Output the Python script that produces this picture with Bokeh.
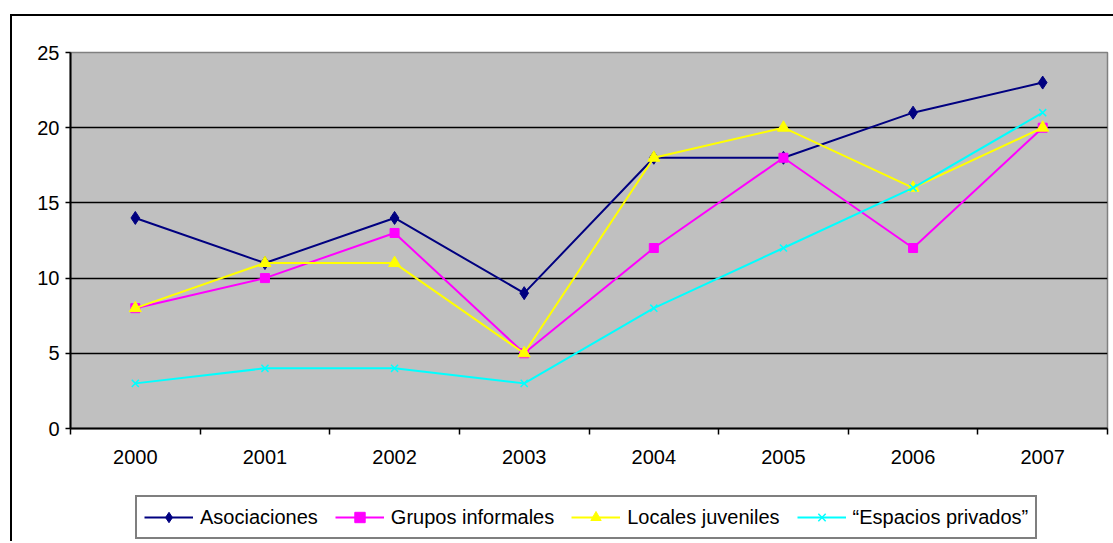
from bokeh.plotting import figure
from bokeh.layouts import column
from bokeh.models import Range1d, FixedTicker, Legend, LegendItem
from bokeh.embed import file_html
from bokeh.resources import INLINE

years = ["2000", "2001", "2002", "2003", "2004", "2005", "2006", "2007"]
asociaciones = [14, 11, 14, 9, 18, 18, 21, 23]
grupos = [8, 10, 13, 5, 12, 18, 12, 20]
locales = [8, 11, 11, 5, 18, 20, 16, 20]
espacios = [3, 4, 4, 3, 8, 12, 16, 21]
y_ticks = [0, 5, 10, 15, 20, 25]
names = ["Asociaciones", "Grupos informales", "Locales juveniles",
         "\u201cEspacios privados\u201d"]

FONT = "Liberation Sans"
xs = [i + 0.5 for i in range(len(years))]

p = figure(width=1101, height=460, output_backend="svg", toolbar_location=None,
           x_range=Range1d(0, len(years)), y_range=Range1d(0, 25))
p.min_border_left = 58
p.min_border_top = 36
p.min_border_bottom = 48
p.min_border_right = 6
p.background_fill_color = "#C0C0C0"
p.border_fill_color = "white"
p.outline_line_color = "#808080"
p.outline_line_width = 1.5

p.xaxis.ticker = FixedTicker(ticks=xs, minor_ticks=list(range(len(years) + 1)))
p.xaxis.major_label_overrides = {x: y for x, y in zip(xs, years)}
p.xaxis.major_tick_out = 0
p.xaxis.major_tick_in = 0
p.xaxis.minor_tick_out = 6
p.xaxis.minor_tick_in = 0
p.xaxis.minor_tick_line_color = "black"
p.xaxis.minor_tick_line_width = 1.5
p.xaxis.major_label_standoff = 15
p.yaxis.ticker = FixedTicker(ticks=y_ticks)
p.yaxis.minor_tick_line_color = None
p.yaxis.major_tick_out = 5
p.yaxis.major_tick_in = 0
p.yaxis.major_label_standoff = 6
for ax in (p.xaxis, p.yaxis):
    ax.axis_line_color = "black"
    ax.axis_line_width = 2
    ax.major_tick_line_color = "black"
    ax.major_tick_line_width = 1.5
    ax.major_label_text_font = FONT
    ax.major_label_text_font_size = "20px"
    ax.major_label_text_color = "black"

p.xgrid.grid_line_color = None
p.ygrid.ticker = FixedTicker(ticks=[t for t in y_ticks if 0 < t < 25])
p.ygrid.grid_line_color = "black"
p.ygrid.grid_line_width = 1.5

styles = [
    ("#000080", "diamond", 13),
    ("#FF00FF", "square", 9),
    ("#FFFF00", "triangle", 12),
    ("#00FFFF", "x", 10),
]
values = [asociaciones, grupos, locales, espacios]

# legend strip below the chart (its ranges keep the series out of view)
p2 = figure(width=1101, height=65, output_backend="svg", toolbar_location=None,
            x_axis_location=None, y_axis_location=None,
            x_range=Range1d(100, 101), y_range=Range1d(100, 101))
p2.min_border = 0
p2.grid.visible = False
p2.outline_line_color = None
p2.background_fill_color = "white"
p2.border_fill_color = "white"

items = []
for name, vals, (col, mk, sz) in zip(names, values, styles):
    lw = 1.5 if mk == "x" else 1
    p.line(xs, vals, line_color=col, line_width=2)
    p.scatter(xs, vals, marker=mk, size=sz, fill_color=col, line_color=col, line_width=lw)
    l2 = p2.line(xs, vals, line_color=col, line_width=2)
    s2 = p2.scatter(xs, vals, marker=mk, size=sz, fill_color=col, line_color=col, line_width=lw)
    items.append(LegendItem(label=name, renderers=[l2, s2]))

legend = Legend(items=items, orientation="horizontal", location=(65, 2))
legend.label_text_font = FONT
legend.label_text_font_size = "20px"
legend.label_text_color = "black"
legend.glyph_width = 49
legend.glyph_height = 26
legend.label_standoff = 7
legend.spacing = 17
legend.padding = 7
legend.margin = 0
legend.label_height = 22
legend.border_line_color = "black"
legend.border_line_width = 2
legend.background_fill_color = "white"
legend.background_fill_alpha = 1
p2.add_layout(legend, "center")

layout = column(p, p2, spacing=0, margin=(14, 0, 0, 10),
                styles={"border-left": "2px solid black", "border-top": "2px solid black"})

open("out.html", "w").write(file_html(layout, INLINE))
